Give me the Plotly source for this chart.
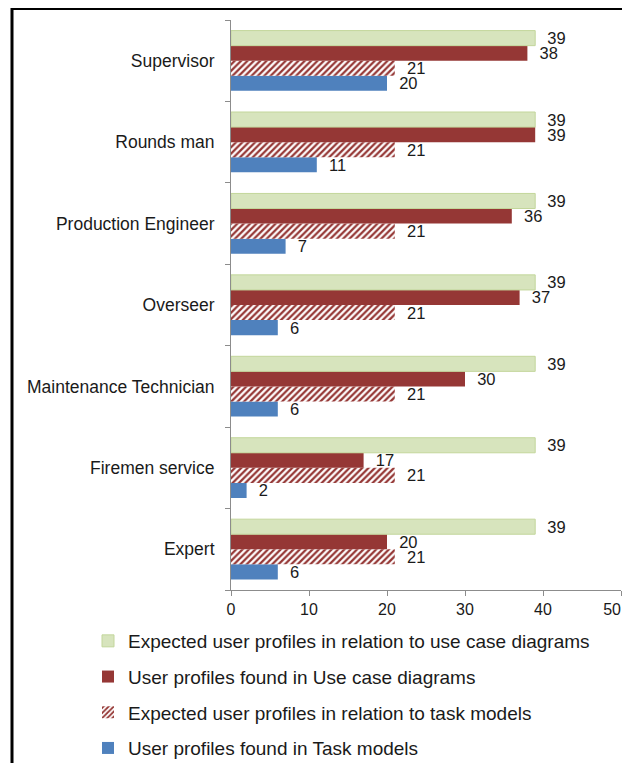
import plotly.graph_objects as go

categories = ["Expert", "Firemen service", "Maintenance Technician", "Overseer",
              "Production Engineer", "Rounds man", "Supervisor"]
task_found = [6, 2, 6, 6, 7, 11, 20]
task_expected = [21, 21, 21, 21, 21, 21, 21]
usecase_found = [20, 17, 30, 37, 36, 39, 38]
usecase_expected = [39, 39, 39, 39, 39, 39, 39]
x_tick_values = [0, 10, 20, 30, 40, 50]
x_tick_labels = ["0", "10", "20", "30", "40", "50"]

names = {
    "ue": "Expected user profiles in relation to use case diagrams",
    "uf": "User profiles found in Use case diagrams",
    "te": "Expected user profiles in relation to task models",
    "tf": "User profiles found in Task models",
}

FONT = "Liberation Sans, Arial, sans-serif"
txtfont = dict(family=FONT, size=16.5, color="#1a1a1a")
TT = "\u00a0\u00a0%{x}"

# the last tick label sits at the window edge; pad it so it stays visible
tick_text = list(x_tick_labels)
tick_text[-1] = tick_text[-1] + "\u00a0\u00a0\u00a0\u00a0"

fig = go.Figure()
common = dict(orientation="h", textposition="outside", textfont=txtfont,
              cliponaxis=False, constraintext="none", texttemplate=TT)
fig.add_trace(go.Bar(
    y=categories, x=task_found, name=names["tf"],
    marker=dict(color="#4F81BD", line=dict(width=0)),
    legendgroup="tf", legendrank=4, **common,
))
fig.add_trace(go.Bar(
    y=categories, x=task_expected, name=names["te"],
    marker=dict(color="white", line=dict(width=0),
                pattern=dict(shape="/", fgcolor="#953735", bgcolor="white",
                             size=4.5, solidity=0.5, fillmode="replace")),
    legendgroup="te", legendrank=3, **common,
))
fig.add_trace(go.Bar(
    y=categories, x=usecase_found, name=names["uf"],
    marker=dict(color="#953735", line=dict(width=0)),
    legendgroup="uf", legendrank=2, **common,
))
fig.add_trace(go.Bar(
    y=categories, x=usecase_expected, name=names["ue"],
    marker=dict(color="#D7E4BD", line=dict(width=1, color="#C3D69B")),
    legendgroup="ue", legendrank=1, **common,
))

# page body has an 8px margin, so the figure origin sits at (8, 8) in the window
OFF = 8
W, H = 630, 763
L, T = 231 - OFF, 20 - OFF
pw, ph = 390, 570
R = W - L - pw
B = H - T - ph

def px_x(p):
    return (p - OFF - L) / pw

def px_y(p):
    return (T + ph - (p - OFF)) / ph

fig.update_layout(
    width=W, height=H,
    margin=dict(l=L, r=R, t=T, b=B, pad=0, autoexpand=False),
    paper_bgcolor="white", plot_bgcolor="white",
    barmode="group", bargap=0.26, bargroupgap=0,
    font=dict(family=FONT, size=16, color="#1a1a1a"),
    showlegend=True,
    legend=dict(
        orientation="v", x=px_x(88), y=px_y(622), xanchor="left", yanchor="top",
        font=dict(family=FONT, size=19, color="#1a1a1a"), tracegroupgap=8,
        itemwidth=30, bgcolor="rgba(0,0,0,0)",
    ),
    xaxis=dict(
        range=[0, 50], tickvals=x_tick_values, ticktext=tick_text,
        ticklabeloverflow="allow",
        showgrid=False, zeroline=False,
        showline=True, linecolor="#8c8c8c", linewidth=1,
        ticks="outside", ticklen=5, tickcolor="#8c8c8c",
        tickfont=dict(family=FONT, size=16, color="#1a1a1a"),
    ),
    yaxis=dict(
        type="category", categoryorder="array", categoryarray=categories,
        showgrid=False, zeroline=False,
        showline=True, linecolor="#8c8c8c", linewidth=1,
        ticks="outside", ticklen=5, tickcolor="#8c8c8c", tickson="boundaries",
        tickfont=dict(family=FONT, size=17.5, color="#1a1a1a"), ticklabelstandoff=12,
    ),
    shapes=[
        dict(type="line", xref="paper", yref="paper",
             x0=px_x(12), x1=px_x(650), y0=px_y(9), y1=px_y(9),
             line=dict(color="black", width=2)),
        dict(type="line", xref="paper", yref="paper",
             x0=px_x(12), x1=px_x(12), y0=px_y(8), y1=px_y(800),
             line=dict(color="black", width=3)),
    ],
)

fig.write_html("out.html")
